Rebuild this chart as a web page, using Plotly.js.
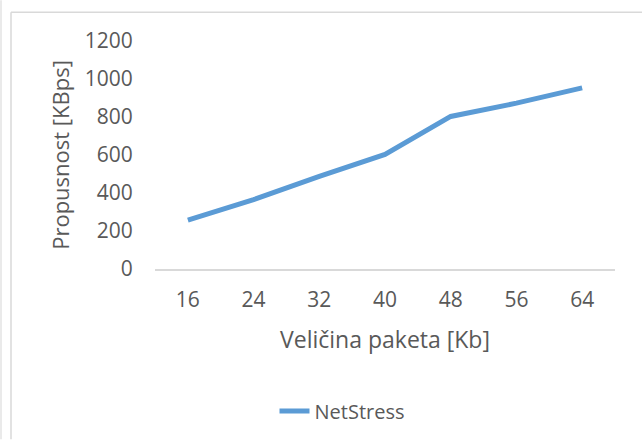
<!DOCTYPE html>
<html>
<head>
<meta charset="utf-8">
<script src="https://cdn.plot.ly/plotly-3.0.1.min.js"></script>
<style>
html,body{margin:0;padding:0;background:#fff;}
#chart{width:642px;height:441px;}
</style>
</head>
<body>
<div id="chart"></div>
<script>
var categories = ["16", "24", "32", "40", "48", "56", "64"];
var netStress = [257, 365, 487, 603, 803, 873, 953];
var seriesName = "NetStress";
var xTitle = "Veličina paketa [Kb]";
var yTitle = "Propusnost [KBps]";

var W = 642, H = 441;
var L = 155, R = 27, T = 41, B = 171;
var pw = W - L - R, ph = H - T - B;
function px(x){ return (x - L) / pw; }
function py(y){ return (H - B - y) / ph; }

var font = "'Open Sans', sans-serif";
var grey = "#595959";

var trace = {
  x: categories,
  y: netStress,
  type: "scatter",
  mode: "lines",
  name: seriesName,
  line: {color: "#5b9bd5", width: 5}
};

var layout = {
  width: W, height: H,
  margin: {l: L, r: R, t: T, b: B, pad: 0},
  paper_bgcolor: "#fff",
  plot_bgcolor: "#fff",
  font: {family: font, color: grey},
  showlegend: true,
  legend: {
    orientation: "h",
    x: px(342), xanchor: "center",
    y: py(411), yanchor: "middle",
    font: {family: font, size: 20, color: grey}
  },
  xaxis: {
    type: "category",
    range: [-0.5, 6.5],
    showgrid: false,
    zeroline: false,
    showline: true,
    linecolor: "#d9d9d9",
    linewidth: 1.5,
    ticks: "outside",
    ticklen: 11,
    tickcolor: "rgba(0,0,0,0)",
    tickfont: {family: font, size: 21, color: grey},
    title: {text: xTitle, font: {family: font, size: 23, color: grey}, standoff: 20},
    fixedrange: true
  },
  yaxis: {
    range: [0, 1200],
    dtick: 200,
    showgrid: false,
    zeroline: false,
    showline: false,
    ticks: "outside",
    ticklen: 17,
    tickcolor: "rgba(0,0,0,0)",
    tickfont: {family: font, size: 21, color: grey},
    title: {text: yTitle, font: {family: font, size: 22, color: grey}, standoff: 9},
    fixedrange: true
  },
  shapes: [
    {type: "line", xref: "paper", yref: "paper", x0: px(11), x1: px(11), y0: py(12), y1: py(441), line: {color: "#d9d9d9", width: 1.5}},
    {type: "line", xref: "paper", yref: "paper", x0: px(11), x1: px(642), y0: py(12), y1: py(12), line: {color: "#d9d9d9", width: 1.5}},
    {type: "line", xref: "paper", yref: "paper", x0: px(1), x1: px(1), y0: py(0), y1: py(441), line: {color: "#e3e3e3", width: 1.5}}
  ]
};

Plotly.newPlot("chart", [trace], layout, {staticPlot: true, displayModeBar: false});
</script>
</body>
</html>
